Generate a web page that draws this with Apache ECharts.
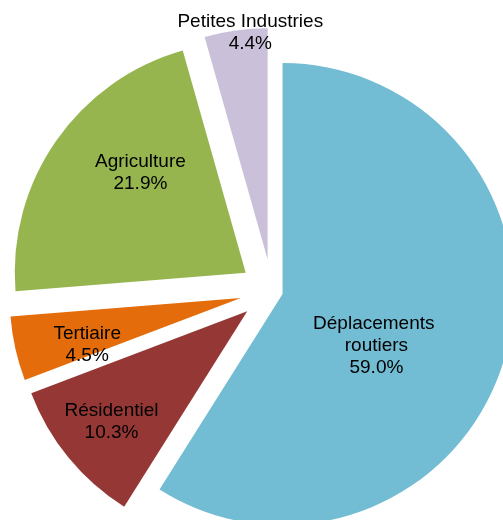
<!DOCTYPE html>
<html>
<head>
<meta charset="utf-8">
<script src="https://cdn.jsdelivr.net/npm/echarts@6/dist/echarts.min.js"></script>
<style>html,body{margin:0;padding:0;background:#fff}#c{width:503px;height:520px}</style>
</head>
<body>
<div id="c"></div>
<script>
// Data
const categories = ['Déplacements routiers', 'Résidentiel', 'Tertiaire', 'Agriculture', 'Petites Industries'];
const values = [59.0, 10.3, 4.5, 21.9, 4.4];

// Styling / layout (not data)
const colors = ['#72BCD4', '#953735', '#E46C0A', '#96B54F', '#CAC0DA'];
const labelShift = [[-20, 19], [-44, 35], [-38, 21], [-8, -32], [-1, -109]];
const pieCenter = [272, 291];
const pieRadius = 231;

function buildData(mainOnly) {
  return categories.map((name, i) => {
    const isMain = i === 0;
    const visible = mainOnly ? isMain : !isMain;
    const item = {
      name: name,
      value: values[i],
      selected: visible,
      itemStyle: { color: visible ? colors[i] : 'rgba(0,0,0,0)' },
      label: { show: visible }
    };
    if (isMain) { item.label.width = 140; item.label.overflow = 'break'; }
    return item;
  });
}

const labelStyle = {
  show: true,
  position: 'inside',
  formatter: p => p.name + '\n' + Number(p.value).toFixed(1) + '%',
  color: '#000',
  fontFamily: '"Liberation Sans", Arial, sans-serif',
  fontSize: 19,
  lineHeight: 22,
  align: 'center'
};

function series(mainOnly, offset) {
  return {
    type: 'pie',
    center: pieCenter,
    radius: [0, pieRadius],
    startAngle: 90,
    clockwise: true,
    selectedMode: 'multiple',
    selectedOffset: offset,
    avoidLabelOverlap: false,
    silent: true,
    emphasis: { disabled: true },
    itemStyle: { borderWidth: 0 },
    label: labelStyle,
    labelLine: { show: false },
    labelLayout: p => ({ dx: labelShift[p.dataIndex][0], dy: labelShift[p.dataIndex][1] }),
    data: buildData(mainOnly)
  };
}

const chart = echarts.init(document.getElementById('c'), null, { renderer: 'canvas' });
chart.setOption({
  animation: false,
  backgroundColor: '#fff',
  series: [series(false, 32), series(true, 11)]
});
</script>
</body>
</html>
